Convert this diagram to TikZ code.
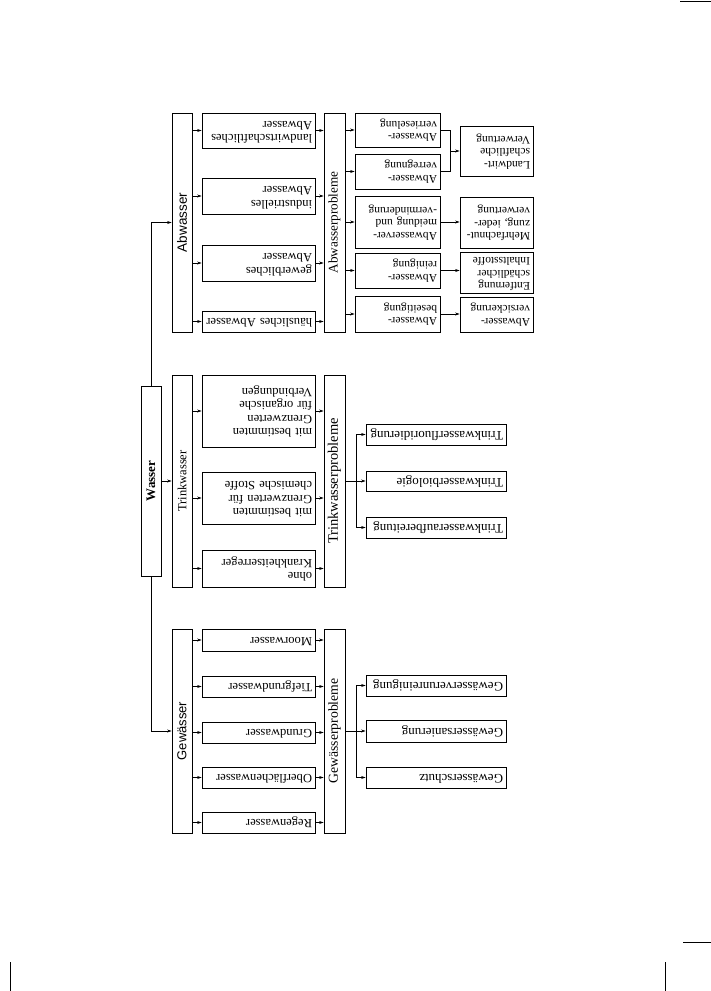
\documentclass[tikz,border=0pt]{standalone}
\usepackage{fontspec}
\setmainfont{Liberation Serif}
\newfontfamily\sansf{Liberation Sans}
\usepackage{graphicx}
\usetikzlibrary{arrows.meta,calc}
\newcommand{\ud}[1]{\rotatebox{180}{\begin{tabular}{@{}l@{}}#1\end{tabular}}}
\newcommand{\upr}[1]{\rotatebox{90}{#1}}
\begin{document}
\begin{tikzpicture}[x=1pt,y=-1pt, line width=0.8pt,
  box/.style={draw, inner sep=0pt, inner xsep=3pt, align=right},
  bar/.style={draw, inner sep=0pt, minimum width=20pt},
  pbar/.style={draw, inner sep=0pt, minimum width=21pt},
  ctwo/.style={box, text width=107pt, font=\fontsize{12.5}{13.5}\selectfont},
  cthree/.style={box, text width=79pt, font=\fontsize{11.5}{12.5}\selectfont},
  cfour/.style={box, text width=67pt, font=\fontsize{11.5}{12.5}\selectfont},
  cwide/.style={box, text width=134pt, font=\fontsize{13}{14}\selectfont},
  arr/.style={-{Stealth[length=4.5pt,width=3pt]}, line width=0.6pt},
  ln/.style={line width=0.6pt}]
\useasboundingbox (0,0) rectangle (711,991);

% page edges of the scan
\draw (680,1) -- (711,1);
\draw (683,942) -- (711,942);
\draw (665,962) -- (665,991);
\draw (10,962) -- (10,991);

% root
\node[bar, minimum height=190pt, font=\bfseries\fontsize{13}{15}\selectfont] (wasser) at (151,481) {\upr{Wasser}};

% level 1 bars
\node[bar, minimum height=219pt, font=\sansf\fontsize{13.5}{15}\selectfont] (abw) at (182,222.5) {\upr{Abwasser}};
\node[bar, minimum height=212pt, font=\fontsize{12.5}{14}\selectfont] (trw) at (182,481) {\upr{Trinkwasser}};
\node[bar, minimum height=204pt, font=\sansf\fontsize{13}{15}\selectfont] (gew) at (182,731) {\upr{Gewässer}};

\draw[arr] (wasser.north) |- (abw.west);
\draw[arr] (wasser.east) -- (trw.west);
\draw[arr] (wasser.south) |- (gew.west);

% level 2 : Abwasser
\node[ctwo, minimum height=35pt] (lw) at (258.5,130.5) {\ud{landwirtschaftliches\\Abwasser}};
\node[ctwo, minimum height=36pt] (ind) at (258.5,196) {\ud{industrielles\\Abwasser}};
\node[ctwo, minimum height=36pt] (gwb) at (258.5,263) {\ud{gewerbliches\\Abwasser}};
\node[ctwo, minimum height=21pt] (hs) at (258.5,321.5) {\ud{häusliches Abwasser}};

% level 2 : Trinkwasser
\node[ctwo, minimum height=72pt] (org) at (258.5,411) {\ud{mit bestimmten\\Grenzwerten\\für organische\\Verbindungen}};
\node[ctwo, minimum height=52pt] (chem) at (258.5,498) {\ud{mit bestimmten\\Grenzwerten für\\chemische Stoffe}};
\node[ctwo, minimum height=37pt] (ohne) at (258.5,568.5) {\ud{ohne\\Krankheitserreger}};

% level 2 : Gewässer
\node[ctwo, minimum height=22pt] (moor) at (258.5,640) {\ud{Moorwasser}};
\node[ctwo, minimum height=21pt] (tief) at (258.5,686.5) {\ud{Tiefgrundwasser}};
\node[ctwo, minimum height=21pt] (grund) at (258.5,732.5) {\ud{Grundwasser}};
\node[ctwo, minimum height=21pt] (ober) at (258.5,777.5) {\ud{Oberflächenwasser}};
\node[ctwo, minimum height=21pt] (regen) at (258.5,822.5) {\ud{Regenwasser}};

% problem bars
\node[pbar, minimum height=219pt, font=\fontsize{13.2}{15}\selectfont] (abp) at (334.5,222.5) {\upr{Abwasserprobleme}};
\node[pbar, minimum height=212pt, font=\fontsize{14.5}{16}\selectfont] (trp) at (334.5,481) {\upr{Trinkwasserprobleme}};
\node[pbar, minimum height=204pt, font=\fontsize{13.7}{15}\selectfont] (gwp) at (334.5,731) {\upr{Gewässerprobleme}};

% arrows bar -> level 2 -> problem bar
\foreach \n in {lw,ind,gwb,hs}{
  \draw[arr] (abw.east |- \n.west) -- (\n.west);
  \draw[arr] (\n.east) -- (\n.east -| abp.west);
}
\foreach \n in {org,chem,ohne}{
  \draw[arr] (trw.east |- \n.west) -- (\n.west);
  \draw[arr] (\n.east) -- (\n.east -| trp.west);
}
\foreach \n in {moor,tief,grund,ober,regen}{
  \draw[arr] (gew.east |- \n.west) -- (\n.west);
  \draw[arr] (\n.east) -- (\n.east -| gwp.west);
}

% level 3 : Abwasserprobleme
\node[cthree, minimum height=34pt] (vries) at (397.5,130) {\ud{Abwasser-\\verrieselung}};
\node[cthree, minimum height=35pt] (vreg) at (397.5,171.5) {\ud{Abwasser-\\verregnung}};
\node[cthree, minimum height=52pt] (vmeid) at (397.5,222) {\ud{Abwasserver-\\meidung und\\-verminderung}};
\node[cthree, minimum height=35pt] (rein) at (397.5,270.5) {\ud{Abwasser-\\reinigung}};
\node[cthree, minimum height=36pt] (bes) at (397.5,314) {\ud{Abwasser-\\beseitigung}};
\foreach \n in {vries,vreg,vmeid,rein,bes}{
  \draw[arr] (abp.east |- \n.west) -- (\n.west);
}

% level 4 : Abwasser
\node[cfour, minimum height=50pt] (lv) at (496.5,151) {\ud{Landwirt-\\schaftliche\\Verwertung}};
\node[cfour, minimum height=51pt] (mehr) at (496.5,222.5) {\ud{Mehrfachnut-\\zung, ieder-\\verwertung}};
\node[cfour, minimum height=41pt] (entf) at (496.5,272.5) {\ud{Entfernung\\schädlicher\\Inhaltsstoffe}};
\node[cfour, minimum height=35pt] (vers) at (496.5,314.5) {\ud{Abwasser-\\versickerung}};

\draw[ln] (vries.east) -- ++(10,0) coordinate (bk1) |- (vreg.east);
\draw[arr] (bk1 |- lv.west) -- (lv.west);
\draw[arr] (vmeid.east) -- (vmeid.east -| mehr.west);
\draw[arr] (rein.east) -- (rein.east -| entf.west);
\draw[arr] (bes.east) -- (bes.east -| vers.west);

% level 3 : Trinkwasserprobleme
\node[cwide, minimum height=21pt] (fluor) at (436,434.5) {\ud{Trinkwasserfluoridierung}};
\node[cwide, minimum height=20pt] (bio) at (436,481) {\ud{Trinkwasserbiologie}};
\node[cwide, minimum height=21pt] (aufb) at (436,527.5) {\ud{Trinkwasseraufbereitung}};
\draw[ln] (trp.east) -- ++(11,0) coordinate (tj);
\draw[arr] (tj) |- (fluor.west);
\draw[arr] (tj) -- (bio.west);
\draw[arr] (tj) |- (aufb.west);

% level 3 : Gewässerprobleme
\node[cwide, minimum height=21pt] (verun) at (436,685.5) {\ud{Gewässerverunreinigung}};
\node[cwide, minimum height=22pt] (san) at (436,731) {\ud{Gewässersanierung}};
\node[cwide, minimum height=21pt] (schutz) at (436,777.5) {\ud{Gewässerschutz}};
\draw[ln] (gwp.east) -- ++(11,0) coordinate (gj);
\draw[arr] (gj) |- (verun.west);
\draw[arr] (gj) -- (san.west);
\draw[arr] (gj) |- (schutz.west);
\end{tikzpicture}
\end{document}
